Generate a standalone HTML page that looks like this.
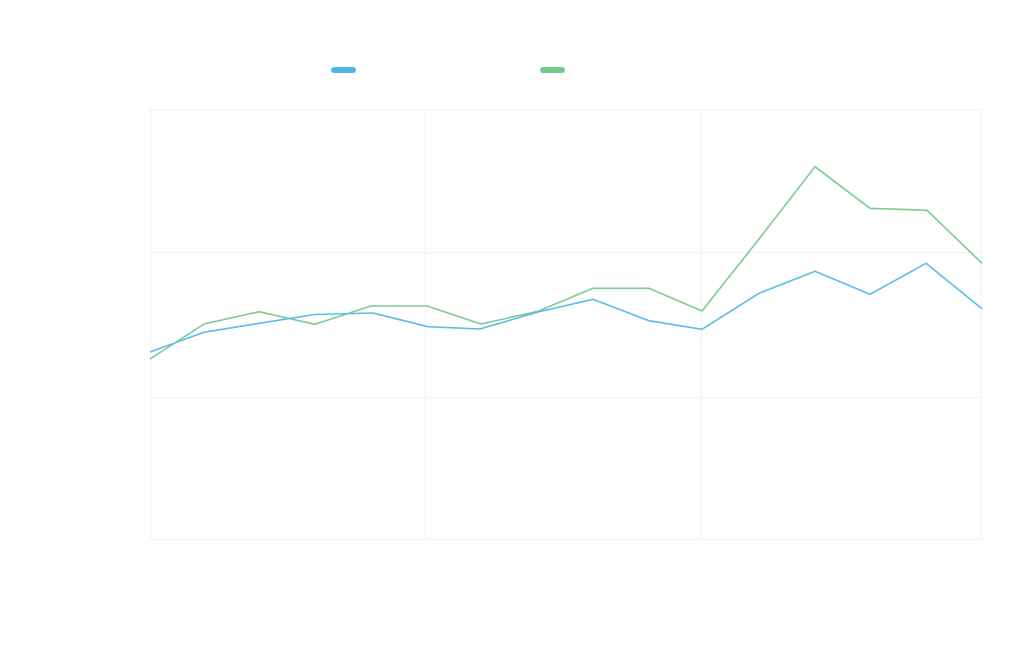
<!DOCTYPE html>
<html><head><meta charset="utf-8"><style>
html,body{margin:0;padding:0;background:#fff;}
svg{display:block;}
</style></head><body>
<svg width="1024" height="652" viewBox="0 0 1024 652" xmlns="http://www.w3.org/2000/svg">
<rect width="1024" height="652" fill="#ffffff"/>
<g stroke="#edf3f8" stroke-width="1.2" fill="none">
<line x1="150" y1="109.5" x2="982" y2="109.5"/>
<line x1="150" y1="252.5" x2="982" y2="252.5"/>
<line x1="150" y1="397.5" x2="982" y2="397.5"/>
<line x1="150" y1="539.5" x2="982" y2="539.5"/>
<line x1="150.5" y1="109" x2="150.5" y2="540"/>
<line x1="425.5" y1="109" x2="425.5" y2="540"/>
<line x1="701.5" y1="109" x2="701.5" y2="540"/>
<line x1="981.5" y1="109" x2="981.5" y2="540"/>
</g>
<rect x="331" y="67" width="25" height="6" rx="3" fill="#4ab6e8"/>
<rect x="540" y="67" width="25" height="6" rx="3" fill="#74c98d"/>
<polyline fill="none" stroke="#7ccb92" stroke-width="1.6" stroke-linejoin="round"
points="150,359 204,324 259,311.7 315,324.3 371,306 427,306 481,324 538,311.3 593,288.3 649,288.3 702,311 759,239 815,166.7 870,208.3 927,210.3 982,263.3"/>
<polyline fill="none" stroke="#5bbde9" stroke-width="1.6" stroke-linejoin="round"
points="150,352 204,332.3 259,323.3 315,314.5 373,313 428,326.7 480,329 538,312 593,299.3 649,320.7 702,329.3 759,293.3 815,271.3 870,294.3 926,263.3 982,308.7"/>
</svg>
</body></html>
